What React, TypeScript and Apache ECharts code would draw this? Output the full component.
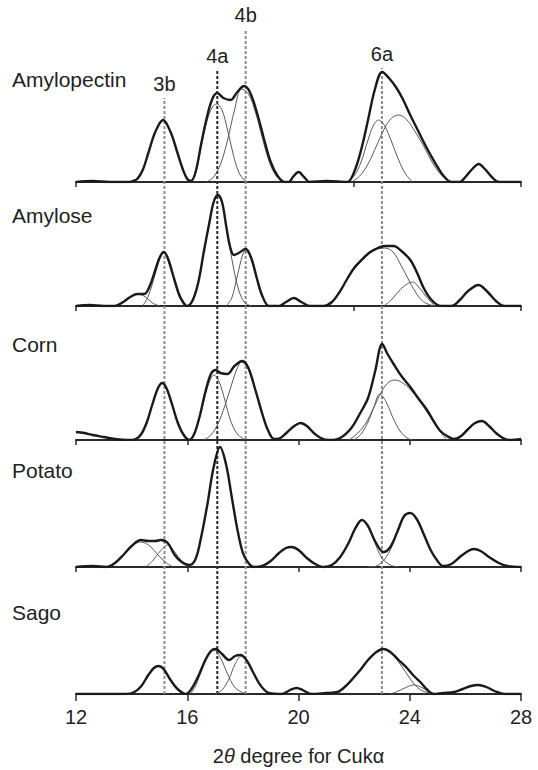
import React, { useEffect, useRef } from "react";
import * as echarts from "echarts";

type Pt = [number, number];

// ---- data (2θ, intensity a.u.) ----
const xMin = 12;
const xMax = 28;
const panelNames = ["Amylopectin", "Amylose", "Corn", "Potato", "Sago"];

const amylopectinFit: Pt[] = [[12.0,0],[12.6,1],[13.2,0],[13.9,0],[14.05,1],[14.2,3],[14.4,12],[14.6,29],[14.85,50],[15.13,62],[15.4,50],[15.65,29],[15.85,12],[16.0,3],[16.13,1],[16.3,10],[16.5,38],[16.7,64],[16.9,83],[17.08,89],[17.3,84],[17.56,82],[17.8,90],[18.04,96],[18.25,90],[18.5,70],[18.75,44],[19.0,20],[19.25,6],[19.5,0],[19.65,0],[19.8,5],[20.0,10],[20.2,5],[20.4,0],[21.0,1],[21.75,0],[22.0,10],[22.25,32],[22.5,62],[22.75,93],[23.01,110],[23.25,104],[23.5,95],[23.75,83],[24.0,68],[24.25,54],[24.5,40],[24.75,27],[25.0,15],[25.25,5],[25.5,0],[25.8,0],[26.0,5],[26.25,13],[26.48,18],[26.7,13],[26.95,5],[27.2,0],[28,0]];
const amylopectinPeaks: Pt[][] = [
  [[16.13,0],[16.3,9],[16.5,35],[16.7,60],[16.9,75],[17.06,78],[17.25,72],[17.45,52],[17.65,28],[17.85,10],[18.05,2],[18.2,0]],
  [[16.7,0],[16.95,5],[17.2,18],[17.45,42],[17.7,72],[17.95,93],[18.2,88],[18.45,70],[18.7,44],[18.95,20],[19.2,6],[19.48,0]],
  [[21.75,0],[22.0,6],[22.25,20],[22.5,42],[22.7,57],[22.88,62],[23.1,56],[23.35,40],[23.6,22],[23.85,8],[24.1,0]],
  [[21.9,0],[22.2,6],[22.5,18],[22.8,36],[23.1,54],[23.35,64],[23.6,67],[23.9,62],[24.2,50],[24.5,36],[24.8,20],[25.1,8],[25.45,0]],
];

const amyloseFit: Pt[] = [[12,0],[12.5,1],[13.0,0],[13.4,0],[13.7,4],[13.95,9],[14.21,12],[14.45,12],[14.65,20],[14.85,36],[15.0,48],[15.15,54],[15.3,48],[15.5,30],[15.7,12],[15.85,4],[16.0,0],[16.2,6],[16.4,24],[16.6,55],[16.8,84],[16.95,104],[17.1,111],[17.25,104],[17.4,80],[17.55,58],[17.68,51],[17.85,53],[18.1,57],[18.3,48],[18.5,28],[18.7,10],[18.94,0],[19.3,0],[19.55,4],[19.83,8],[20.1,4],[20.4,0],[20.9,0],[21.2,4],[21.5,15],[21.75,27],[22.0,38],[22.3,47],[22.58,54],[22.85,58],[23.1,60],[23.42,60],[23.7,55],[24.02,46],[24.25,34],[24.5,18],[24.75,7],[25.0,1],[25.2,0],[25.5,0],[25.8,6],[26.1,15],[26.47,21],[26.8,14],[27.1,5],[27.4,0],[28,0]];
const amylosePeaks: Pt[][] = [
  [[13.4,0],[13.7,4],[13.95,9],[14.21,12],[14.5,9],[14.75,3],[15.0,0]],
  [[14.4,0],[14.6,10],[14.85,32],[15.0,46],[15.15,54],[15.3,46],[15.5,28],[15.7,10],[15.9,0]],
  [[16.0,0],[16.2,6],[16.4,24],[16.6,55],[16.8,84],[16.95,104],[17.1,111],[17.25,103],[17.45,72],[17.65,40],[17.85,16],[18.05,4],[18.3,0]],
  [[17.4,0],[17.6,8],[17.8,30],[18.0,52],[18.1,55],[18.25,50],[18.45,32],[18.65,12],[18.9,0]],
  [[20.9,0],[21.2,4],[21.5,15],[21.75,27],[22.0,37],[22.3,46],[22.58,53],[22.85,57],[23.1,58],[23.4,54],[23.7,40],[24.0,24],[24.25,12],[24.5,4],[24.75,1],[24.9,0]],
  [[23.06,0],[23.3,5],[23.55,13],[23.8,20],[24.1,24],[24.35,18],[24.6,9],[24.9,0]],
];

const cornFit: Pt[] = [[12.0,8],[12.3,7],[12.6,5],[13.0,3],[13.4,1],[13.85,0],[14.15,1],[14.35,6],[14.55,18],[14.75,36],[14.95,52],[15.1,57],[15.25,52],[15.45,36],[15.65,18],[15.85,6],[16.07,0],[16.25,6],[16.45,24],[16.65,48],[16.85,66],[17.02,70],[17.2,67],[17.44,66],[17.7,74],[17.98,79],[18.2,72],[18.45,50],[18.7,26],[18.9,10],[19.12,1],[19.35,2],[19.6,8],[19.85,14],[20.07,17],[20.3,14],[20.55,7],[20.8,2],[21.1,0],[21.5,2],[21.9,12],[22.22,27],[22.5,42],[22.75,68],[23.01,96],[23.2,86],[23.42,76],[23.7,64],[24.02,53],[24.3,42],[24.62,30],[24.9,17],[25.1,9],[25.34,4],[25.6,1],[25.85,4],[26.1,11],[26.35,17],[26.6,19],[26.85,14],[27.1,7],[27.35,2],[27.6,0],[28,1]];
const cornPeaks: Pt[][] = [
  [[16.07,0],[16.25,6],[16.45,23],[16.65,45],[16.82,60],[16.96,65],[17.15,58],[17.35,40],[17.55,20],[17.8,6],[18.1,0]],
  [[16.6,0],[16.85,5],[17.1,16],[17.35,34],[17.6,56],[17.8,72],[17.95,78],[18.15,73],[18.4,54],[18.65,30],[18.9,10],[19.12,0]],
  [[22.0,0],[22.25,6],[22.5,18],[22.7,32],[22.92,46],[23.15,38],[23.4,22],[23.65,9],[23.9,2],[24.1,0]],
  [[21.8,0],[22.1,6],[22.4,16],[22.7,32],[23.0,49],[23.25,58],[23.48,60],[23.75,57],[24.0,51],[24.3,41],[24.6,29],[24.9,16],[25.1,8],[25.34,0]],
];

const potatoFit: Pt[] = [[12,0],[12.6,1],[13.1,0],[13.4,4],[13.7,12],[14.0,21],[14.33,27],[14.6,26],[14.85,26],[15.05,27],[15.3,24],[15.55,12],[15.8,5],[16.07,2],[16.3,8],[16.5,30],[16.72,62],[16.95,100],[17.18,120],[17.4,102],[17.6,70],[17.8,38],[18.0,14],[18.2,4],[18.4,0],[18.7,1],[19.0,6],[19.3,14],[19.55,19],[19.75,20],[20.0,17],[20.3,9],[20.6,3],[20.9,0],[21.2,2],[21.5,10],[21.8,24],[22.05,39],[22.28,47],[22.5,41],[22.75,26],[23.06,15],[23.3,20],[23.55,35],[23.8,51],[24.02,54],[24.25,48],[24.5,33],[24.75,17],[25.0,6],[25.2,1],[25.5,3],[25.8,10],[26.1,16],[26.3,18],[26.55,16],[26.85,10],[27.2,4],[27.5,1],[28,0]];
const potatoPeaks: Pt[][] = [
  [[13.1,0],[13.4,4],[13.7,12],[14.0,21],[14.33,25],[14.65,21],[14.95,12],[15.25,4],[15.5,0]],
  [[14.5,0],[14.75,6],[15.0,15],[15.3,22],[15.55,15],[15.8,6],[16.07,0]],
  [[21.0,0],[21.3,4],[21.6,14],[21.85,28],[22.05,40],[22.28,47],[22.5,41],[22.75,24],[23.0,9],[23.3,2],[23.6,0]],
  [[22.5,0],[22.8,1],[23.1,8],[23.35,20],[23.6,38],[23.8,51],[24.02,54],[24.25,48],[24.5,33],[24.75,17],[25.0,6],[25.2,0]],
];

const sagoFit: Pt[] = [[12,0],[13.0,0],[13.8,0],[14.1,2],[14.35,8],[14.6,19],[14.8,26],[14.97,28],[15.15,25],[15.4,14],[15.65,5],[15.95,0],[16.15,5],[16.4,18],[16.65,34],[16.85,43],[17.02,45],[17.25,40],[17.5,34],[17.72,38],[17.92,39],[18.15,33],[18.4,20],[18.65,8],[18.94,1],[19.4,0],[19.7,4],[19.93,6],[20.15,4],[20.45,0],[21.0,1],[21.4,2],[21.7,8],[22.0,17],[22.22,24],[22.5,34],[22.8,42],[23.06,45],[23.3,42],[23.6,34],[23.9,26],[24.15,18],[24.38,12],[24.6,5],[24.86,0],[25.2,1],[25.6,2],[25.9,5],[26.2,8],[26.47,9],[26.75,7],[27.05,3],[27.4,0],[28,0]];
const sagoPeaks: Pt[][] = [
  [[16.1,0],[16.3,8],[16.55,26],[16.8,40],[16.98,44],[17.2,36],[17.45,20],[17.7,7],[17.95,2],[18.2,0]],
  [[17.0,0],[17.25,4],[17.5,15],[17.72,30],[17.95,38],[18.15,33],[18.4,20],[18.65,8],[18.94,0]],
  [[21.4,0],[21.7,7],[22.0,16],[22.22,24],[22.5,34],[22.8,42],[23.0,45],[23.3,42],[23.6,32],[23.9,20],[24.15,10],[24.4,4],[24.7,1],[24.86,0]],
  [[23.3,0],[23.6,3],[23.9,7],[24.14,9],[24.4,7],[24.65,3],[24.9,0]],
];

// reference reflections: position (2θ) and extent of guide line above the bottom axis
const refNames = ["3b", "4a", "4b", "6a"];
const refPositions = [15.18, 17.08, 18.1, 23.0];
const refExtents = [596, 624, 665, 626];

const fits = [amylopectinFit, amyloseFit, cornFit, potatoFit, sagoFit];
const peaks = [amylopectinPeaks, amylosePeaks, cornPeaks, potatoPeaks, sagoPeaks];

// ---- layout ----
const FONT = '"Liberation Sans", Arial, Helvetica, sans-serif';
const LEFT = 76;
const RIGHT = 17;
const PANEL_H = 150;
const baselines = [182, 306, 440, 567, 694];
const labelCenters = [79, 215, 344, 470, 612];

export default function App() {
  const ref = useRef<HTMLDivElement>(null);
  useEffect(() => {
    if (!ref.current) return;
    const chart = echarts.init(ref.current, undefined, { renderer: "svg" });
    const grids: any[] = [];
    const xAxes: any[] = [];
    const yAxes: any[] = [];
    const series: any[] = [];
    baselines.forEach((b, i) => {
      const last = i === baselines.length - 1;
      grids.push({ left: LEFT, right: RIGHT, top: b - PANEL_H, height: PANEL_H });
      xAxes.push({
        type: "value",
        gridIndex: i,
        min: xMin,
        max: xMax,
        interval: i < 2 ? 10 : 4,
        position: "bottom",
        axisLine: { show: true, onZero: false, lineStyle: { color: "#2a2a2a", width: 2 } },
        axisTick: { show: true, length: last ? 7 : 5, lineStyle: { color: "#2a2a2a", width: 1.5 } },
        axisLabel: {
          show: last,
          fontSize: 20,
          fontFamily: FONT,
          color: "#222",
          margin: 13,
        },
        splitLine: { show: false },
        name: last ? "{a|2}{b|θ}{a| degree for Cuk}{a|α}" : "",
        nameLocation: "middle",
        nameGap: 52,
        nameTextStyle: {
          rich: {
            a: { fontSize: 20, fontFamily: FONT, color: "#222" },
            b: { fontSize: 20, fontFamily: FONT, color: "#222", fontStyle: "italic" },
          },
        },
      });
      yAxes.push({ type: "value", gridIndex: i, min: 0, max: PANEL_H, show: false });
      peaks[i].forEach((p) => {
        series.push({
          type: "line",
          xAxisIndex: i,
          yAxisIndex: i,
          data: p,
          smooth: 0.35,
          symbol: "none",
          lineStyle: { color: "#5a5a5a", width: 1 },
          z: 3,
          silent: true,
        });
      });
      series.push({
        type: "line",
        xAxisIndex: i,
        yAxisIndex: i,
        data: fits[i],
        smooth: 0.35,
        symbol: "none",
        lineStyle: { color: "#1a1a1a", width: 2.4 },
        z: 4,
        silent: true,
      });
    });
    // overlay grid for reflection guide lines
    const oi = baselines.length;
    const bottom = baselines[baselines.length - 1];
    grids.push({ left: LEFT, right: RIGHT, top: 0, height: bottom });
    xAxes.push({ type: "value", gridIndex: oi, min: xMin, max: xMax, show: false });
    yAxes.push({ type: "value", gridIndex: oi, min: 0, max: bottom, show: false });
    refNames.forEach((n, k) => {
      series.push({
        type: "line",
        xAxisIndex: oi,
        yAxisIndex: oi,
        data: [[refPositions[k], 0], [refPositions[k], refExtents[k]]],
        symbol: "none",
        lineStyle: { color: n === "4a" ? "#2a2a2a" : "#8c8c8c", width: 2, type: [3, 2] },
        z: 2,
        silent: true,
      });
    });
    series.push({
      type: "scatter",
      xAxisIndex: oi,
      yAxisIndex: oi,
      symbol: "circle",
      symbolSize: 0,
      itemStyle: { color: "#222", opacity: 1 },
      data: refNames.map((n, k) => ({ name: n, value: [refPositions[k], refExtents[k]] })),
      label: {
        show: true,
        position: "top",
        distance: 4,
        formatter: "{b}",
        fontSize: 20,
        fontFamily: FONT,
        color: "#222",
        opacity: 1,
      },
      z: 5,
      silent: true,
    });

    chart.setOption({
      animation: false,
      backgroundColor: "#ffffff",
      grid: grids,
      xAxis: xAxes,
      yAxis: yAxes,
      series,
      graphic: panelNames.map((n, i) => ({
        type: "text",
        x: 12,
        y: labelCenters[i],
        style: {
          text: n,
          font: `21px ${FONT}`,
          fill: "#222",
          verticalAlign: "middle",
          textVerticalAlign: "middle",
        },
      })),
    });
    return () => chart.dispose();
  }, []);
  return (
    <div
      ref={ref}
      style={{ position: "absolute", left: 0, top: 0, width: 538, height: 770 }}
    />
  );
}
